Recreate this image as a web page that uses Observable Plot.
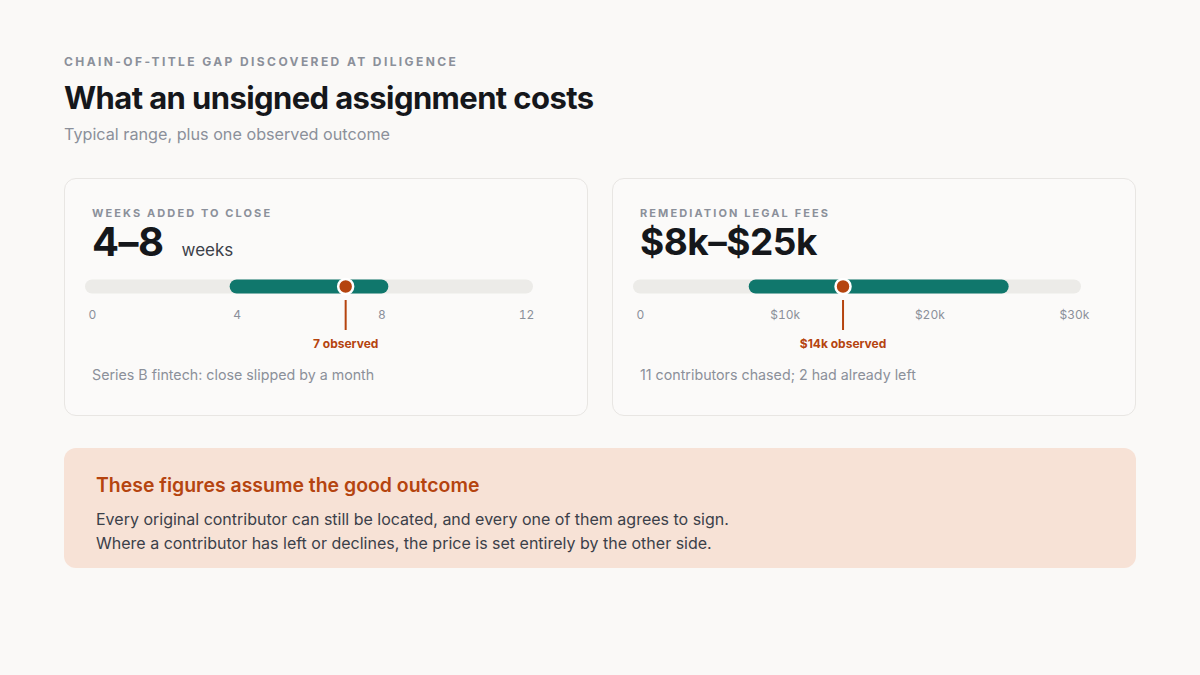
<!DOCTYPE html>
<html><head><meta charset="utf-8">
<script src="https://cdn.jsdelivr.net/npm/d3@7"></script>
<script src="https://cdn.jsdelivr.net/npm/@observablehq/plot@0.6"></script>
<style>
html,body{margin:0;padding:0;background:#faf9f7;font-family:Inter,"Noto Sans",sans-serif;}
#root{position:relative;width:1200px;height:675px;overflow:hidden}
.kicker{position:absolute;left:64px;top:55.5px;font-size:12px;line-height:12px;font-weight:700;letter-spacing:2.4px;color:#8b909a;white-space:nowrap}
.title{position:absolute;left:64px;top:81.5px;font-size:31px;line-height:31px;font-weight:700;color:#15171b;letter-spacing:-0.6px;white-space:nowrap}
.sub{position:absolute;left:64px;top:126px;font-size:16.2px;line-height:16.2px;color:#8b909a;white-space:nowrap}
.card{position:absolute;top:178px;width:524px;height:238px;box-sizing:border-box;border:1px solid #e8e6e3;border-radius:12px;background:#fbfaf9}
.card .lab{position:absolute;left:27px;top:29px;font-size:11px;line-height:11px;font-weight:700;letter-spacing:2.1px;color:#8b909a;white-space:nowrap}
.card .big{position:absolute;left:27px;top:43px;display:flex;align-items:baseline;white-space:nowrap}
.card .num{font-size:40px;line-height:40px;font-weight:700;color:#15171b;letter-spacing:-0.5px}
.card .unit{font-size:17px;line-height:17px;color:#3b4049;margin-left:18px}
.card .plot{position:absolute;left:0;top:91px}
.card .note{position:absolute;left:27px;top:189px;font-size:14.25px;line-height:14.25px;color:#8b909a;white-space:nowrap}
.callout{position:absolute;left:64px;top:448px;width:1072px;height:120px;border-radius:12px;background:#f7e2d6}
.callout .h{position:absolute;left:32px;top:27.5px;font-size:19.45px;line-height:19.45px;font-weight:600;color:#b5440f;white-space:nowrap}
.callout .b{position:absolute;left:32px;top:59px;font-size:16px;line-height:24px;color:#3b4049;white-space:nowrap}
</style>
</head><body>
<div id="root"></div>
<script>
// ---- data ----
const kicker = "CHAIN-OF-TITLE GAP DISCOVERED AT DILIGENCE";
const title = "What an unsigned assignment costs";
const subtitle = "Typical range, plus one observed outcome";
const cardLabels = ["WEEKS ADDED TO CLOSE", "REMEDIATION LEGAL FEES"];
const headlines = ["4–8", "$8k–$25k"];
const units = ["weeks", ""];
const scaleMin = [0, 0];
const scaleMax = [12, 30];
const rangeLow = [4, 8];
const rangeHigh = [8, 25];
const observed = [7, 14];
const observedLabels = ["7 observed", "$14k observed"];
const weekTicks = [0, 4, 8, 12];
const weekTickLabels = ["0", "4", "8", "12"];
const feeTicks = [0, 10, 20, 30];
const feeTickLabels = ["0", "$10k", "$20k", "$30k"];
const notes = ["Series B fintech: close slipped by a month", "11 contributors chased; 2 had already left"];
const calloutTitle = "These figures assume the good outcome";
const calloutLines = [
  "Every original contributor can still be located, and every one of them agrees to sign.",
  "Where a contributor has left or declines, the price is set entirely by the other side."
];
const tickSets = [weekTicks, feeTicks];
const tickLabelSets = [weekTickLabels, feeTickLabels];

// ---- colours ----
const TEAL = "#10776c", ORANGE = "#b5440f", TRACK = "#ecebe8", GRAY = "#8b909a";

const root = document.getElementById("root");
function el(cls, text, parent) {
  const d = document.createElement("div");
  d.className = cls;
  if (text != null) d.textContent = text;
  (parent || root).appendChild(d);
  return d;
}
el("kicker", kicker);
el("title", title);
el("sub", subtitle);

const cardLefts = [64, 612];
cardLabels.forEach((lab, i) => {
  const card = el("card");
  card.style.left = cardLefts[i] + "px";
  el("lab", lab, card);
  const big = el("big", null, card);
  const num = el("num", headlines[i], big);
  // longer headline is set a little smaller so it fits like the reference
  if (headlines[i].length > 5) { num.style.fontSize = "37px"; }
  if (units[i]) el("unit", units[i], big);

  const ticks = tickSets[i], tlabels = tickLabelSets[i];
  const track = [{lo: scaleMin[i], hi: scaleMax[i]}];
  const range = [{lo: rangeLow[i], hi: rangeHigh[i]}];
  const obs = [{v: observed[i], label: observedLabels[i]}];

  const chart = Plot.plot({
    width: 522, height: 80,
    marginLeft: 27, marginRight: 61, marginTop: 0, marginBottom: 40,
    style: {background: "transparent", fontFamily: "Inter, sans-serif", fontSize: "12px", color: GRAY, overflow: "visible"},
    x: {domain: [scaleMin[i], scaleMax[i]], ticks: ticks, tickFormat: d => tlabels[ticks.indexOf(d)], tickSize: 0, tickPadding: 0, label: null},
    y: {domain: [0, 1], range: [16, 60], axis: null},
    marks: [
      Plot.ruleY(track, {x1: "lo", x2: "hi", y: 0, stroke: TRACK, strokeWidth: 14, strokeLinecap: "round"}),
      Plot.ruleY(range, {x1: "lo", x2: "hi", y: 0, stroke: TEAL, strokeWidth: 14, strokeLinecap: "round"}),
      Plot.ruleX(obs, {x: "v", y1: 0, y2: 1, insetTop: 14, stroke: ORANGE, strokeWidth: 2}),
      Plot.dot(obs, {x: "v", y: 0, r: 7.5, fill: ORANGE, stroke: "#ffffff", strokeWidth: 2.5}),
      Plot.text(obs, {x: "v", y: 1, text: "label", dy: 14, fill: ORANGE, fontWeight: 700, fontSize: 12})
    ]
  });
  const holder = el("plot", null, card);
  holder.appendChild(chart);
  el("note", notes[i], card);
});

const co = el("callout");
el("h", calloutTitle, co);
const b = el("b", null, co);
calloutLines.forEach(t => { const d = document.createElement("div"); d.textContent = t; b.appendChild(d); });
</script>
</body></html>
